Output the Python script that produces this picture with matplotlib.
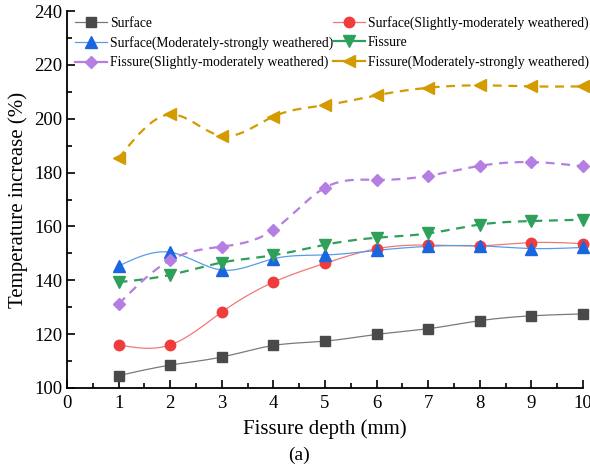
import numpy as np
import matplotlib
matplotlib.use("Agg")
import matplotlib.pyplot as plt
from matplotlib.ticker import MultipleLocator

depth = [1, 2, 3, 4, 5, 6, 7, 8, 9, 10]
surface = [104.6, 108.5, 111.5, 115.8, 117.4, 119.9, 122.0, 125.0, 126.8, 127.5]
surface_sm = [116.0, 116.0, 128.2, 139.3, 146.3, 151.7, 153.1, 152.8, 154.0, 153.6]
surface_ms = [145.3, 150.4, 143.8, 148.0, 149.4, 151.1, 152.6, 152.8, 151.8, 152.2]
fissure = [139.3, 142.0, 146.6, 149.3, 153.2, 155.8, 157.4, 160.7, 162.0, 162.5]
fissure_sm = [131.2, 147.5, 152.5, 158.7, 174.4, 177.3, 178.8, 182.5, 183.9, 182.3]
fissure_ms = [185.3, 201.6, 193.6, 200.8, 205.0, 208.7, 211.5, 212.4, 212.0, 212.0]

labels = ["Surface", "Surface(Slightly-moderately weathered)",
          "Surface(Moderately-strongly weathered)", "Fissure",
          "Fissure(Slightly-moderately weathered)", "Fissure(Moderately-strongly weathered)"]


def natural_spline(x, y, n=400):
    x = np.asarray(x, float)
    y = np.asarray(y, float)
    m = len(x)
    h = np.diff(x)
    A = np.zeros((m, m))
    r = np.zeros(m)
    A[0, 0] = 1
    A[-1, -1] = 1
    for i in range(1, m - 1):
        A[i, i - 1] = h[i - 1]
        A[i, i] = 2 * (h[i - 1] + h[i])
        A[i, i + 1] = h[i]
        r[i] = 3 * ((y[i + 1] - y[i]) / h[i] - (y[i] - y[i - 1]) / h[i - 1])
    c = np.linalg.solve(A, r)
    b = np.zeros(m - 1)
    d = np.zeros(m - 1)
    for i in range(m - 1):
        b[i] = (y[i + 1] - y[i]) / h[i] - h[i] * (2 * c[i] + c[i + 1]) / 3
        d[i] = (c[i + 1] - c[i]) / (3 * h[i])
    xs = np.linspace(x[0], x[-1], n)
    idx = np.clip(np.searchsorted(x, xs) - 1, 0, m - 2)
    dx = xs - x[idx]
    ys = y[idx] + b[idx] * dx + c[idx] * dx ** 2 + d[idx] * dx ** 3
    return xs, ys


plt.rcParams['font.family'] = ['Liberation Serif', 'DejaVu Serif']

fig = plt.figure(figsize=(5.9, 4.7), dpi=100)
ax = fig.add_axes([67 / 590, 1 - 388 / 470, (583 - 67) / 590, (388 - 11) / 470])

series = [
    (surface, '#7a7a7a', '#4a4a4a', 's', 6.5, '-', 0.9),
    (surface_sm, '#f07878', '#f03c3c', 'o', 7.5, '-', 0.9),
    (surface_ms, '#5a9be8', '#1a66e0', '^', 8, '-', 0.9),
    (fissure, '#2fa05a', '#2fa05a', 'v', 8, '--', 1.6),
    (fissure_sm, '#b47ee2', '#b47ee2', 'D', 6.5, '--', 1.6),
    (fissure_ms, '#d49b00', '#d49b00', '<', 8, '--', 1.6),
]

handles = []
for (vals, lc, mc, mk, ms, ls, lw), lab in zip(series, labels):
    xs, ys = natural_spline(depth, vals)
    kw = {}
    if ls == '--':
        kw['dashes'] = (4, 3)
    ax.plot(xs, ys, color=lc, lw=lw, linestyle=ls, zorder=2, clip_on=False, **kw)
    ax.plot(depth, vals, linestyle='none', marker=mk, ms=ms, color=mc,
            markeredgecolor=mc, zorder=3, clip_on=False)
    h, = ax.plot([], [], color=lc, lw=lw if ls == '-' else 1.6, linestyle='-',
                 marker=mk, ms=ms, markerfacecolor=mc, markeredgecolor=mc)
    handles.append(h)

ax.set_xlim(0, 10)
ax.set_ylim(100, 240)
ax.xaxis.set_major_locator(MultipleLocator(1))
ax.xaxis.set_minor_locator(MultipleLocator(0.5))
ax.yaxis.set_major_locator(MultipleLocator(20))
ax.yaxis.set_minor_locator(MultipleLocator(10))
ax.tick_params(which='both', direction='in', labelsize=13.5, width=1.2)
ax.tick_params(which='major', length=6)
ax.tick_params(which='minor', length=3.5)
ax.tick_params(axis='x', pad=5)
for s in ['top', 'right']:
    ax.spines[s].set_visible(False)
for s in ['left', 'bottom']:
    ax.spines[s].set_linewidth(1.3)

ax.set_xlabel('Fissure depth (mm)', fontsize=15, labelpad=5)
ax.set_ylabel('Temperature increase (%)', fontsize=15, labelpad=4)

order = [0, 2, 4, 1, 3, 5]
fig.legend(handles=[handles[i] for i in order], labels=[labels[i] for i in order],
           ncol=2, frameon=False,
           loc='upper left', bbox_to_anchor=(75 / 590, 1 - 16 / 470),
           fontsize=9.8, handlelength=2.35, handletextpad=0.2,
           columnspacing=0.0, labelspacing=0.45, borderaxespad=0, borderpad=0)

fig.text(299 / 590, 1 - 455 / 470, '(a)', fontsize=14, ha='center', va='center')

fig.savefig('out.png', dpi=100)
